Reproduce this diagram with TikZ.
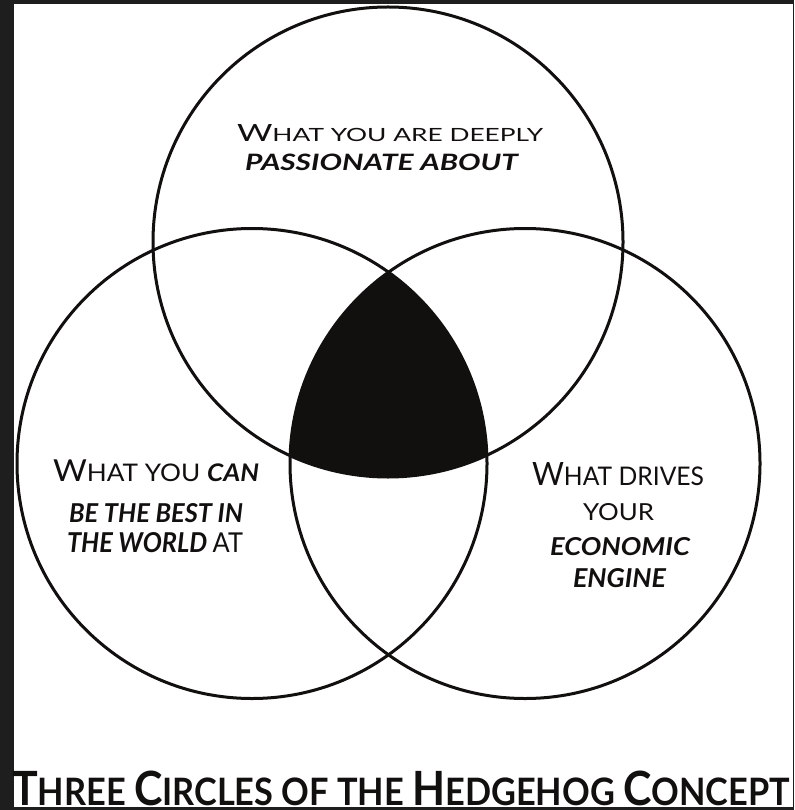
\documentclass[tikz,border=0pt]{standalone}
\usepackage{fontspec}
\setmainfont{Lato}
\usepackage{graphicx}
\newcommand\hhBig[1]{{\fontsize{12.5}{14}\selectfont #1}}
\newcommand\hhSm[1]{{\fontsize{10}{12}\selectfont #1}}
\newcommand\hhBI[1]{{\fontsize{10}{12}\selectfont\bfseries\itshape #1}}
\definecolor{frame}{RGB}{30,30,30}
\definecolor{ink}{RGB}{18,16,14}
\begin{document}
\begin{tikzpicture}[x=1pt,y=-1pt,
  circ/.style={draw=ink,line width=3pt},
  lbl/.style={anchor=base west,inner sep=0pt,outer sep=0pt,text=ink}]
\useasboundingbox (0,0) rectangle (794,810);
\fill[frame] (0,0) rectangle (794,810);
\fill[white] (14,4) rectangle (792.5,806.5);
\coordinate (T) at (388,242);
\coordinate (L) at (252,463.5);
\coordinate (R) at (525,463.5);
\begin{scope}
  \clip (T) circle[radius=235pt];
  \clip (L) circle[radius=235pt];
  \fill[ink] (R) circle[radius=235pt];
\end{scope}
\draw[circ] (T) circle[radius=235pt];
\draw[circ] (L) circle[radius=235pt];
\draw[circ] (R) circle[radius=235pt];
% top circle
\node[lbl] (t1) at (237,142) {\resizebox{306pt}{17pt}{\hhBig{W}{\fontsize{9.6}{12}\selectfont HAT YOU ARE DEEPLY}}};
\node[lbl] (t2) at (245,170.7) {\resizebox{273pt}{16.5pt}{\hhBI{PASSIONATE ABOUT}}};
% left circle
\node[lbl] (l1) at (53,481.7) {\resizebox{206pt}{21.7pt}{\hhBig{W}\hhSm{HAT YOU }\hhBI{CAN}}};
\node[lbl] (l2) at (69,522) {\resizebox{174pt}{19pt}{\hhBI{BE THE BEST IN}}};
\node[lbl] (l3) at (67,552) {\resizebox{176pt}{20pt}{\hhBI{THE WORLD }\hhSm{AT}}};
% right circle
\node[lbl] (r1) at (532,485) {\resizebox{172pt}{23pt}{\hhBig{W}\hhSm{HAT DRIVES}}};
\node[lbl] (r2) at (583,520) {\resizebox{71pt}{17pt}{\hhSm{YOUR}}};
\node[lbl] (r3) at (550,555) {\resizebox{140pt}{18pt}{\hhBI{ECONOMIC}}};
\node[lbl] (r4) at (573,587) {\resizebox{93pt}{19pt}{\hhBI{ENGINE}}};
% title
\node[lbl] (title) at (12,805.5) {\resizebox{778pt}{34.5pt}{\bfseries\hhBig{T}\hhSm{HREE }\hhBig{C}\hhSm{IRCLES OF THE }\hhBig{H}\hhSm{EDGEHOG }\hhBig{C}\hhSm{ONCEPT}}};
\end{tikzpicture}
\end{document}
